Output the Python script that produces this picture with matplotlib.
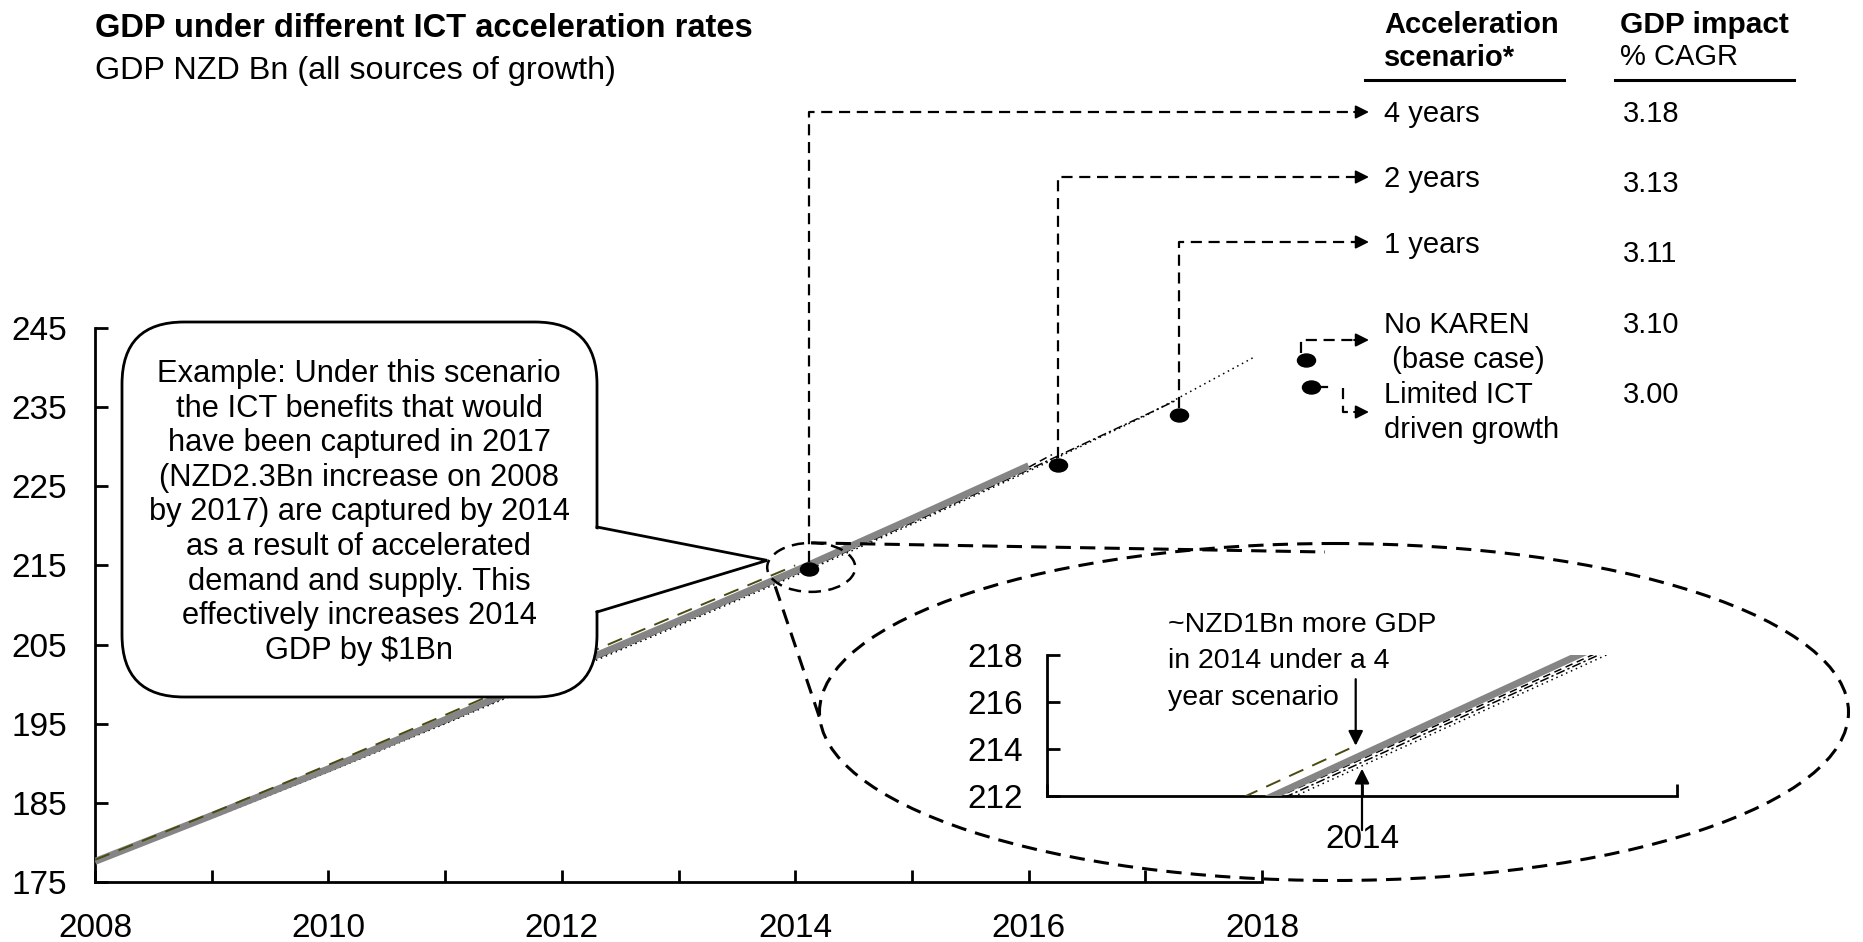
import matplotlib
matplotlib.use("Agg")
import matplotlib.pyplot as plt
from matplotlib.patches import Ellipse, FancyBboxPatch, Polygon
from matplotlib.path import Path
from matplotlib.transforms import Affine2D

plt.rcParams['font.family'] = ['Liberation Sans', 'DejaVu Sans']

W, H = 1863, 942

# ---------------- data ----------------
years = [2008, 2009, 2010, 2011, 2012, 2013, 2014, 2015, 2016]
gdp_core = [177.6, 183.4, 189.3, 195.5, 201.8, 208.0, 214.3, 220.9, 227.6]

four_years_x = [2008, 2009, 2010, 2011, 2012, 2013, 2014]
four_years = [177.8, 183.7, 189.8, 196.1, 202.5, 208.8, 215.0]

two_years_x = [2008, 2009, 2010, 2011, 2012, 2013, 2014, 2015, 2016, 2016.2]
two_years = [177.5, 183.2, 189.1, 195.2, 201.5, 207.7, 214.0, 220.6, 227.4, 229.0]

one_year_x = [2008, 2009, 2010, 2011, 2012, 2013, 2014, 2015, 2016, 2017, 2017.27]
one_year = [177.5, 183.2, 189.0, 195.1, 201.4, 207.6, 213.9, 220.4, 227.1, 234.0, 235.9]

no_karen_x = [2008, 2009, 2010, 2011, 2012, 2013, 2014, 2015, 2016, 2017, 2017.93]
no_karen = [177.5, 183.1, 188.9, 195.0, 201.2, 207.4, 213.7, 220.2, 226.9, 233.9, 241.3]

marker_years = [2014.12, 2016.25, 2017.29, 2018.38, 2018.42]
marker_values = [214.5, 227.7, 234.0, 240.9, 237.6]

scenario_labels = [['4 years'], ['2 years'], ['1 years'],
                   ['No KAREN', ' (base case)'], ['Limited ICT', 'driven growth']]
cagr_values = ['3.18', '3.13', '3.11', '3.10', '3.00']

y_ticks = [175, 185, 195, 205, 215, 225, 235, 245]
x_ticks = [2008, 2010, 2012, 2014, 2016, 2018]
x_minor = [2009, 2011, 2013, 2015, 2017]

# zoomed view around 2014
inset_x = [2013.55, 2014.85]
inset_core = [210.97, 219.0]
inset_two = [210.85, 218.72]
inset_one = [210.70, 218.60]
inset_base = [210.55, 218.45]
inset_four_x = [2013.55, 2013.98]
inset_four = [211.5, 214.14]
inset_y_ticks = [212, 214, 216, 218]
inset_x_ticks = [2013, 2014, 2015]
inset_x_labels = ['', '2014', '']

callout_lines = ["Example: Under this scenario",
                 "the ICT benefits that would",
                 "have been captured in 2017",
                 "(NZD2.3Bn increase on 2008",
                 "by 2017) are captured by 2014",
                 "as a result of accelerated",
                 "demand and supply. This",
                 "effectively increases 2014",
                 "GDP by \\$1Bn"]

note_lines = ["~NZD1Bn more GDP", "in 2014 under a 4", "year scenario"]

# ---------------- figure ----------------
fig = plt.figure(figsize=(W / 100, H / 100), dpi=100)
fig.patch.set_facecolor('white')

ax = fig.add_axes([95 / W, 1 - 882 / H, (1262 - 95) / W, (882 - 328) / H])
ax.set_xlim(2008, 2018)
ax.set_ylim(175, 245)
ax.patch.set_visible(False)

line_kw = dict(color='black', lw=1.1)
ax.plot(no_karen_x, no_karen, ls=(0, (1, 2.5)), zorder=2, **line_kw)
ax.plot(one_year_x, one_year, ls=(0, (6, 2, 1.5, 2)), zorder=2, **line_kw)
ax.plot(two_years_x, two_years, ls=(0, (5, 3)), zorder=2, **line_kw)
ax.plot(years, gdp_core, color='#858585', lw=5, solid_capstyle='butt', zorder=3)
ax.plot(four_years_x, four_years, color='#4a4a10', lw=1.4, ls=(0, (8, 5)), zorder=4)

dot_path = Affine2D().scale(1.0, 0.72).transform_path(Path.unit_circle())
ax.plot(marker_years, marker_values, ls='none', marker=dot_path, ms=13,
        mfc='black', mec='black', clip_on=False, zorder=6)

for side in ('top', 'right'):
    ax.spines[side].set_visible(False)
for side in ('left', 'bottom'):
    ax.spines[side].set_linewidth(2)
ax.set_yticks(y_ticks)
ax.set_xticks(x_ticks)
ax.set_xticks(x_minor, minor=True)
ax.tick_params(axis='both', which='both', direction='in', length=9, width=2,
               labelsize=24, colors='black')
ax.tick_params(axis='x', pad=22)
ax.tick_params(axis='y', pad=20)

# ---------------- inset ----------------
axi = fig.add_axes([1047 / W, 1 - 796 / H, (1677 - 1047) / W, (796 - 655) / H])
axi.set_xlim(2013, 2015)
axi.set_ylim(212, 218)
axi.patch.set_visible(False)
axi.plot(inset_x, inset_base, ls=(0, (1, 2.5)), zorder=2, **line_kw)
axi.plot(inset_x, inset_one, ls=(0, (6, 2, 1.5, 2)), zorder=2, **line_kw)
axi.plot(inset_x, inset_two, ls=(0, (5, 3)), zorder=2, **line_kw)
axi.plot(inset_x, inset_core, color='#858585', lw=5, solid_capstyle='butt', zorder=3)
axi.plot(inset_four_x, inset_four, color='#4a4a10', lw=1.4, ls=(0, (8, 5)), zorder=4)
for side in ('top', 'right'):
    axi.spines[side].set_visible(False)
for side in ('left', 'bottom'):
    axi.spines[side].set_linewidth(2)
axi.set_yticks(inset_y_ticks)
axi.set_xticks(inset_x_ticks)
axi.set_xticklabels(inset_x_labels)
axi.tick_params(axis='both', direction='in', length=9, width=2, labelsize=24, colors='black')
axi.tick_params(axis='x', pad=20)
axi.tick_params(axis='y', pad=17.5)

arrow_kw = dict(arrowstyle='-|>', color='black', lw=1.6, mutation_scale=22,
                shrinkA=0, shrinkB=0)
axi.annotate('', xy=(inset_four_x[-1], inset_four[-1]), xytext=(inset_four_x[-1], 216.97),
             arrowprops=arrow_kw, annotation_clip=False)
axi.annotate('', xy=(2014.0, 213.16), xytext=(2014.0, 210.55),
             arrowprops=arrow_kw, annotation_clip=False)

# ---------------- overlay in pixel units ----------------
ov = fig.add_axes([0, 0, 1, 1])
ov.set_xlim(0, W)
ov.set_ylim(H, 0)
ov.axis('off')
ov.set_zorder(10)
ov.patch.set_alpha(0)


def to_px(x, y):
    dx, dy = ax.transData.transform((x, y))
    return dx, H - dy


# titles
ov.text(95, 37, 'GDP under different ICT acceleration rates', fontsize=23.5,
        fontweight='bold', va='baseline')
ov.text(95, 79, 'GDP NZD Bn (all sources of growth)', fontsize=23.3, va='baseline')

# table header
col1, col2 = 1384, 1620
ov.text(col1, 33, 'Acceleration', fontsize=21, fontweight='bold', va='baseline')
ov.text(col1, 66, 'scenario*', fontsize=21, fontweight='bold', va='baseline')
ov.text(col2, 33, 'GDP impact', fontsize=21.5, fontweight='bold', va='baseline')
ov.text(col2, 65, '% CAGR', fontsize=21, va='baseline')
ov.plot([1365, 1564], [80, 80], color='black', lw=2.2)
ov.plot([1615, 1794], [80, 80], color='black', lw=2.2)

label_baselines = [122, 187, 253, 333, 403]
value_baselines = [122, 192, 262, 333, 403]
for lines, base in zip(scenario_labels, label_baselines):
    for j, line in enumerate(lines):
        ov.text(col1, base + j * 35, line, fontsize=21, va='baseline')
for val, base in zip(cagr_values, value_baselines):
    ov.text(col2 + 3, base, val, fontsize=21, va='baseline')

# dashed connectors from the end points to the table
dash = (0, (5, 3))
con_kw = dict(color='black', lw=1.6, ls=dash)
head_kw = dict(arrowstyle='-|>', color='black', lw=1.4, mutation_scale=20,
               shrinkA=0, shrinkB=0)
tip_x = 1369
row_arrow_y = [112, 177, 242]
for i, ry in enumerate(row_arrow_y):
    px, py = to_px(marker_years[i], marker_values[i])
    ov.plot([px, px, tip_x - 14], [py - 7, ry, ry], **con_kw)
    ov.annotate('', xy=(tip_x, ry), xytext=(tip_x - 15, ry), arrowprops=head_kw)

px4, py4 = to_px(marker_years[3], marker_values[3])
ov.plot([px4 - 5, px4 - 5, tip_x - 14], [py4 - 7, 340, 340], **con_kw)
ov.annotate('', xy=(tip_x, 340), xytext=(tip_x - 15, 340), arrowprops=head_kw)

px5, py5 = to_px(marker_years[4], marker_values[4])
ov.plot([px5, px5 + 16], [py5, py5], color='black', lw=1.6)
ov.plot([1343, 1343, tip_x - 14], [388, 412, 412], **con_kw)
ov.annotate('', xy=(tip_x, 412), xytext=(tip_x - 15, 412), arrowprops=head_kw)

# magnifier: small ellipse round the 2014 point, large ellipse round the inset
px1, py1 = to_px(marker_years[0], marker_values[0])
scx, scy = px1 + 2, py1 - 2
ov.add_patch(Ellipse((scx, scy), 88, 49, fill=False, ec='black', lw=1.8, ls=dash))
ov.add_patch(Ellipse((1334, 712), 1029, 337, fill=False, ec='black', lw=2.2, ls=dash))
ov.plot([scx, 1325], [scy - 24.5, 552], color='black', lw=2.2, ls=dash)
ov.plot([scx - 36, 820], [scy + 19, 719], color='black', lw=2.2, ls=dash)

# callout bubble
box = FancyBboxPatch((122, 322), 475, 375, boxstyle='round,pad=0,rounding_size=62',
                     fc='white', ec='black', lw=2, zorder=3)
ov.add_patch(box)
tip = (scx - 44, scy - 7)
ov.add_patch(Polygon([(593, 528.5), tip, (593, 611.5)], closed=True, fc='white',
                     ec='none', zorder=4))
ov.plot([597, tip[0], 597], [527, tip[1], 612], color='black', lw=2, zorder=5,
        solid_joinstyle='miter')
for i, line in enumerate(callout_lines):
    ov.text(359, 382 + i * 34.6, line, fontsize=22.2, ha='center', va='baseline',
            zorder=6)

# inset note
for i, line in enumerate(note_lines):
    ov.text(1168, 632 + i * 36.5, line, fontsize=20.5, ha='left', va='baseline')

fig.savefig('out.png', dpi=100, facecolor='white')
